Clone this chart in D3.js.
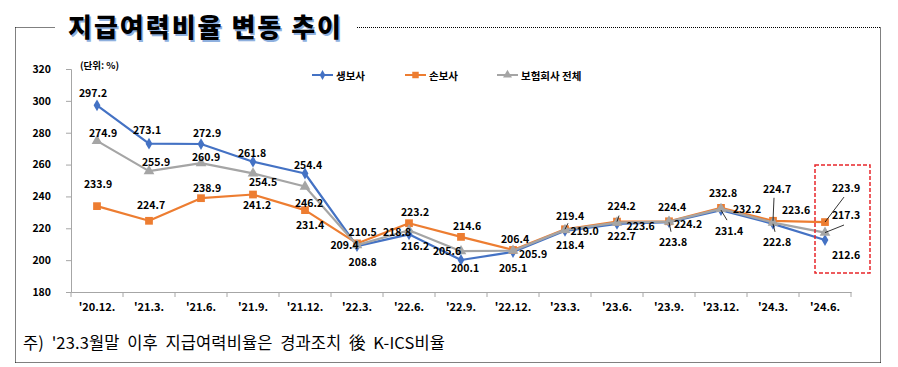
<!DOCTYPE html>
<html><head><meta charset="utf-8">
<script src="https://cdn.jsdelivr.net/npm/d3@7"></script>
<style>
html,body{margin:0;padding:0;background:#fff;}
svg{display:block;font-family:"Noto Sans CJK KR","Noto Sans",sans-serif;}
</style></head>
<body>
<svg id="c" width="898" height="367"></svg>
<script>
// ---- data ----
const categories = ["'20.12.","'21.3.","'21.6.","'21.9.","'21.12.","'22.3.","'22.6.","'22.9.","'22.12.","'23.3.","'23.6.","'23.9.","'23.12.","'24.3.","'24.6."];
const lifeValues    = [297.2,273.1,272.9,261.8,254.4,208.8,216.2,200.1,205.1,218.4,222.7,223.8,231.4,222.8,212.6];
const nonlifeValues = [233.9,224.7,238.9,241.2,231.4,210.5,223.2,214.6,206.4,219.4,224.2,224.4,232.8,224.7,223.9];
const totalValues   = [274.9,255.9,260.9,254.5,246.2,209.4,218.8,205.6,205.9,219.0,223.6,224.2,232.2,223.6,217.3];
const seriesNames = ["생보사","손보사","보험회사 전체"];
const yTicks = [180,200,220,240,260,280,300,320];
const title = "지급여력비율 변동 추이";
const unitLabel = "(단위: %)";
const footnote = "주)  '23.3월말  이후  지급여력비율은  경과조치  後  K-ICS비율";

// ---- layout (label offsets relative to points, leader line ends) ----
const lifeLabelOff = [[-4,-13],[-2,-14],[6,-12],[-1,-9],[3,-9],[5.7,15],[6,10.7],[4,8],[0,15],[5,13.2],[4.7,12],[4,19.5],[8,20],[4,18],[21,14]];
const nonlifeLabelOff = [[1,-23],[2,-16],[6,-11],[4,10],[5,14],[5.7,-11.7],[6,-12],[6,-11],[2,-11],[5,-14.2],[4.7,-15.6],[3,-14.5],[2,-15.5],[4,-32],[21,-35]];
const totalLabelOff = [[6,-8],[7,-10],[5,-7],[10,8],[4,16],[-12.5,-1],[-12,1.5],[-14,-1],[20,3],[19.5,0.8],[23.7,2.5],[19,2.4],[26,0],[23,-13],[21,-18]];
const lifeLeaders = {11:[2,9.5],12:[6,10],13:[2,8]};
const nonlifeLeaders = {9:[3,-6],10:[2,-6],13:[1,-23],14:[19,-25]};
const totalLeaders = {14:[19,-7.6]};

const svg = d3.select("#c");
const x = d3.scaleBand().domain(categories).range([71,851]).padding(0);
const y = d3.scaleLinear().domain([180,320]).range([292,69]);
const cx = c => x(c) + x.bandwidth()/2;
const axisColor = "#a6a6a6";

// frame (dotted)
const frame = svg.append("g").attr("stroke","#000").attr("stroke-width",1).attr("stroke-dasharray","1,1").attr("fill","none");
frame.append("line").attr("x1",15.5).attr("y1",27.5).attr("x2",55).attr("y2",27.5);
frame.append("line").attr("x1",357).attr("y1",27.5).attr("x2",880.5).attr("y2",27.5);
frame.append("line").attr("x1",15.5).attr("y1",27.5).attr("x2",15.5).attr("y2",362.5);
frame.append("line").attr("x1",880.5).attr("y1",27.5).attr("x2",880.5).attr("y2",362.5);
frame.append("line").attr("x1",15.5).attr("y1",362.5).attr("x2",880.5).attr("y2",362.5);

// title
svg.append("text").attr("x",69.5).attr("y",38.5).attr("font-size",26).attr("font-weight",900)
  .attr("textLength",273).attr("lengthAdjust","spacing")
  .attr("fill","#8fb0de").text(title);
svg.append("text").attr("x",68).attr("y",37).attr("font-size",26).attr("font-weight",900)
  .attr("textLength",273).attr("lengthAdjust","spacing")
  .attr("fill","#000").text(title);

// y axis
const ya = svg.append("g").attr("transform","translate(71,0)")
  .call(d3.axisLeft(y).tickValues(yTicks).tickSize(5).tickPadding(15).tickFormat(d3.format("d")));
ya.select(".domain").attr("stroke",axisColor);
ya.selectAll(".tick line").attr("stroke",axisColor);
ya.selectAll("text").attr("font-size",10.5).attr("font-weight",700).attr("fill","#000")
  .attr("font-family","'Noto Sans CJK KR',sans-serif");

// x axis
const xa = svg.append("g").attr("transform","translate(0,292)")
  .call(d3.axisBottom(x).tickSize(0).tickPadding(11));
xa.select(".domain").attr("stroke",axisColor);
xa.selectAll("text").attr("font-size",11).attr("font-weight",700).attr("fill","#000")
  .attr("font-family","'Noto Sans CJK KR',sans-serif");
const bounds = categories.map(c=>x(c)).concat([x(categories[categories.length-1])+x.bandwidth()]);
svg.append("g").selectAll("line").data(bounds).join("line")
  .attr("x1",d=>d).attr("x2",d=>d).attr("y1",292).attr("y2",297).attr("stroke",axisColor);

// unit label
svg.append("text").attr("x",80).attr("y",69).attr("font-size",9.5).attr("font-weight",700).attr("fill","#000").text(unitLabel);

// series
const series = [
  {name:seriesNames[0], values:lifeValues, color:"#4472C4", marker:"diamond", off:lifeLabelOff, leaders:lifeLeaders},
  {name:seriesNames[1], values:nonlifeValues, color:"#ED7D31", marker:"square", off:nonlifeLabelOff, leaders:nonlifeLeaders},
  {name:seriesNames[2], values:totalValues, color:"#A5A5A5", marker:"triangle", off:totalLabelOff, leaders:totalLeaders}
];
const symType = {diamond:d3.symbolDiamond, square:d3.symbolSquare, triangle:d3.symbolTriangle};
const symSize = {diamond:40, square:60, triangle:50};
const line = d3.line().x((d,i)=>cx(categories[i])).y(d=>y(d));

series.forEach(s=>{
  svg.append("path").attr("d",line(s.values)).attr("fill","none").attr("stroke",s.color).attr("stroke-width",2.2)
    .attr("stroke-linejoin","round");
  svg.append("g").selectAll("path").data(s.values).join("path")
    .attr("transform",(d,i)=>`translate(${cx(categories[i])},${y(d)})`)
    .attr("d",d3.symbol().type(symType[s.marker]).size(symSize[s.marker])).attr("fill",s.color);
});

// leader lines
series.forEach(s=>{
  Object.entries(s.leaders).forEach(([i,o])=>{
    i=+i;
    const px=cx(categories[i]), py=y(s.values[i]);
    svg.append("line").attr("x1",px).attr("y1",py).attr("x2",px+o[0]).attr("y2",py+o[1])
      .attr("stroke","#000").attr("stroke-width",0.8);
  });
});

// labels
series.forEach(s=>{
  svg.append("g").selectAll("text").data(s.values).join("text")
    .attr("x",(d,i)=>cx(categories[i])+s.off[i][0])
    .attr("y",(d,i)=>y(d)+s.off[i][1])
    .attr("text-anchor","middle").attr("dominant-baseline","central")
    .attr("font-size",10.5).attr("font-weight",700).attr("fill","#000")
    .text(d=>d3.format(".1f")(d));
});

// legend
const legX = [312,405,497];
series.forEach((s,k)=>{
  const g = svg.append("g").attr("transform",`translate(${legX[k]},75)`);
  g.append("line").attr("x1",0).attr("x2",21).attr("stroke",s.color).attr("stroke-width",2);
  g.append("path").attr("transform","translate(10.5,0)")
    .attr("d",d3.symbol().type(symType[s.marker]).size(symSize[s.marker]*0.7)).attr("fill",s.color);
  g.append("text").attr("x",24).attr("y",0).attr("dominant-baseline","central")
    .attr("font-size",10.5).attr("font-weight",700).attr("fill","#000").text(s.name);
});

// highlight box
const lastC = categories[categories.length-1];
svg.append("rect").attr("x",x(lastC)+16).attr("y",y(259.7)).attr("width",55).attr("height",y(191.9)-y(259.7))
  .attr("fill","none").attr("stroke","#e8262a").attr("stroke-width",1.5).attr("stroke-dasharray","4,2");

// footnote
const fn = svg.append("text").attr("x",23).attr("y",349).attr("font-size",16.5).attr("fill","#000")
  .style("white-space","pre").attr("textLength",422).attr("lengthAdjust","spacing").text(footnote);
</script>
</body></html>
